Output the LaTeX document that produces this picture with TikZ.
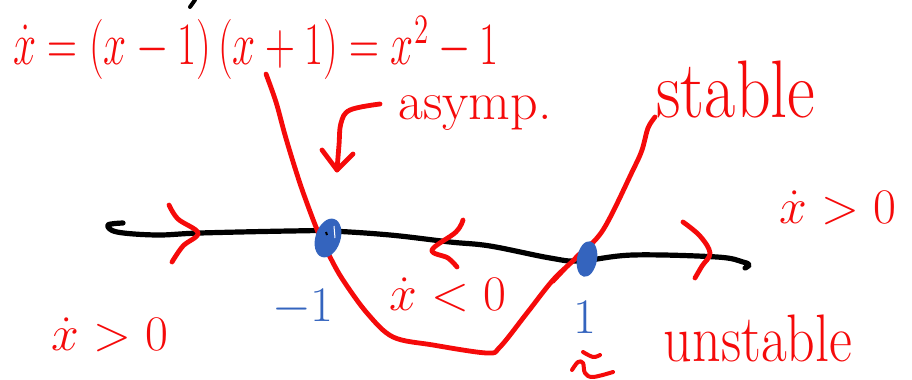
\documentclass[tikz,border=0pt]{standalone}
\usetikzlibrary{calc}
\definecolor{ink}{RGB}{245,10,10}
\definecolor{dotblue}{RGB}{52,100,190}
\tikzset{
  redink/.style={draw=ink,line width=2.4pt,line cap=round,line join=round},
  blackink/.style={draw=black,line width=2.6pt,line cap=round,line join=round},
  redtext/.style={text=ink,inner sep=0pt},
  bluetext/.style={text=dotblue,inner sep=0pt},
}
\begin{document}
\begin{tikzpicture}[x=0.5pt,y=-0.5pt]
\useasboundingbox (0,0) rectangle (912,380);
% small black mark at the top
\coordinate (tm1) at (195,0); \coordinate (tm2) at (190,7);
\draw[blackink,line width=2pt] (tm1) -- (tm2);
% axis
\draw[blackink] plot[smooth,tension=0.6] coordinates {(123,223) (108,225) (117,232) (157,235) (200,233) (290,231) (330,231) (390,235) (450,242) (490,246) (550,258) (580,261) (633,255) (717,257) (743,262) (749,265) (745,268)};
% red curve
\draw[redink] plot[smooth,tension=0.55] coordinates {(266,74) (276,102) (285,135) (295,168) (304,195) (318,232) (330,257) (343,280) (367,313) (393,337) (433,345) (487,353) (500,347) (527,313) (553,280) (577,257) (603,230) (633,170) (642,150) (648,128) (655,117)};
\draw[redink,line width=1.8pt] plot[smooth,tension=0.6] coordinates {(553,282) (568,266) (580,253) (584,258)};
% fixed points
\fill[dotblue,rotate around={-18:(328,238)}] (328,238) ellipse [x radius=12.5,y radius=20];
\fill[dotblue,rotate around={-10:(587,259)}] (587,259) ellipse [x radius=10,y radius=18];
\draw[white,line width=0.5pt] (334,226) -- (335,238);
\draw[black,line width=1pt] (326,232) -- (327,235);
% chevrons
\draw[redink] plot[smooth,tension=0.6] coordinates {(169,205) (178,219) (198,233) (183,246) (172,262)};
\draw[redink] plot[smooth,tension=0.6] coordinates {(463,220) (456,232) (432,250) (448,258) (457,267)};
\draw[redink] plot[smooth,tension=0.6] coordinates {(683,222) (700,236) (710,253) (702,266) (695,278)};
% asymp arrow
\coordinate (aa) at (380,104);
\coordinate (ab) at (337,170);
\draw[redink] plot[smooth,tension=0.6] coordinates {(aa) (350,110) (341,123) (339,145) (ab)};
\draw[redink] (322,150) -- (ab) -- (353,154);
% stray squiggle
\draw[redink,line width=2pt] plot[smooth,tension=0.6] coordinates {(572,370) (578,362) (583,363) (585,373) (593,377) (613,372)};
\draw[redink,line width=2pt] plot[smooth,tension=0.6] coordinates {(583,352) (593,357) (600,355)};
% texts
\node[redtext,font=\fontsize{22}{26}\selectfont] (eq) at (256,48) {\scalebox{1}[1.45]{$\dot{x} = (x-1)\,(x+1) = x^2-1$}};
\node[redtext,font=\fontsize{27}{30}\selectfont] (asy) at (475,113) {asymp.};
\node[redtext,font=\fontsize{34}{38}\selectfont] (st) at (736,90) {\scalebox{1}[1.2]{stable}};
\node[redtext,font=\fontsize{29}{32}\selectfont] (pr) at (838,208) {$\dot{x} > 0$};
\node[redtext,font=\fontsize{28}{30}\selectfont] (pl) at (110,335) {$\dot{x} > 0$};
\node[redtext,font=\fontsize{25}{28}\selectfont] (ng) at (448,295) {$\dot{x} < 0$};
\node[bluetext,font=\fontsize{26}{30}\selectfont] (m1) at (303,308) {$-1$};
\node[bluetext,font=\fontsize{28}{30}\selectfont] (p1) at (585,317) {$1$};
\node[redtext,font=\fontsize{28}{32}\selectfont] (un) at (758,338) {\scalebox{1}[1.2]{unstable}};
\end{tikzpicture}
\end{document}
